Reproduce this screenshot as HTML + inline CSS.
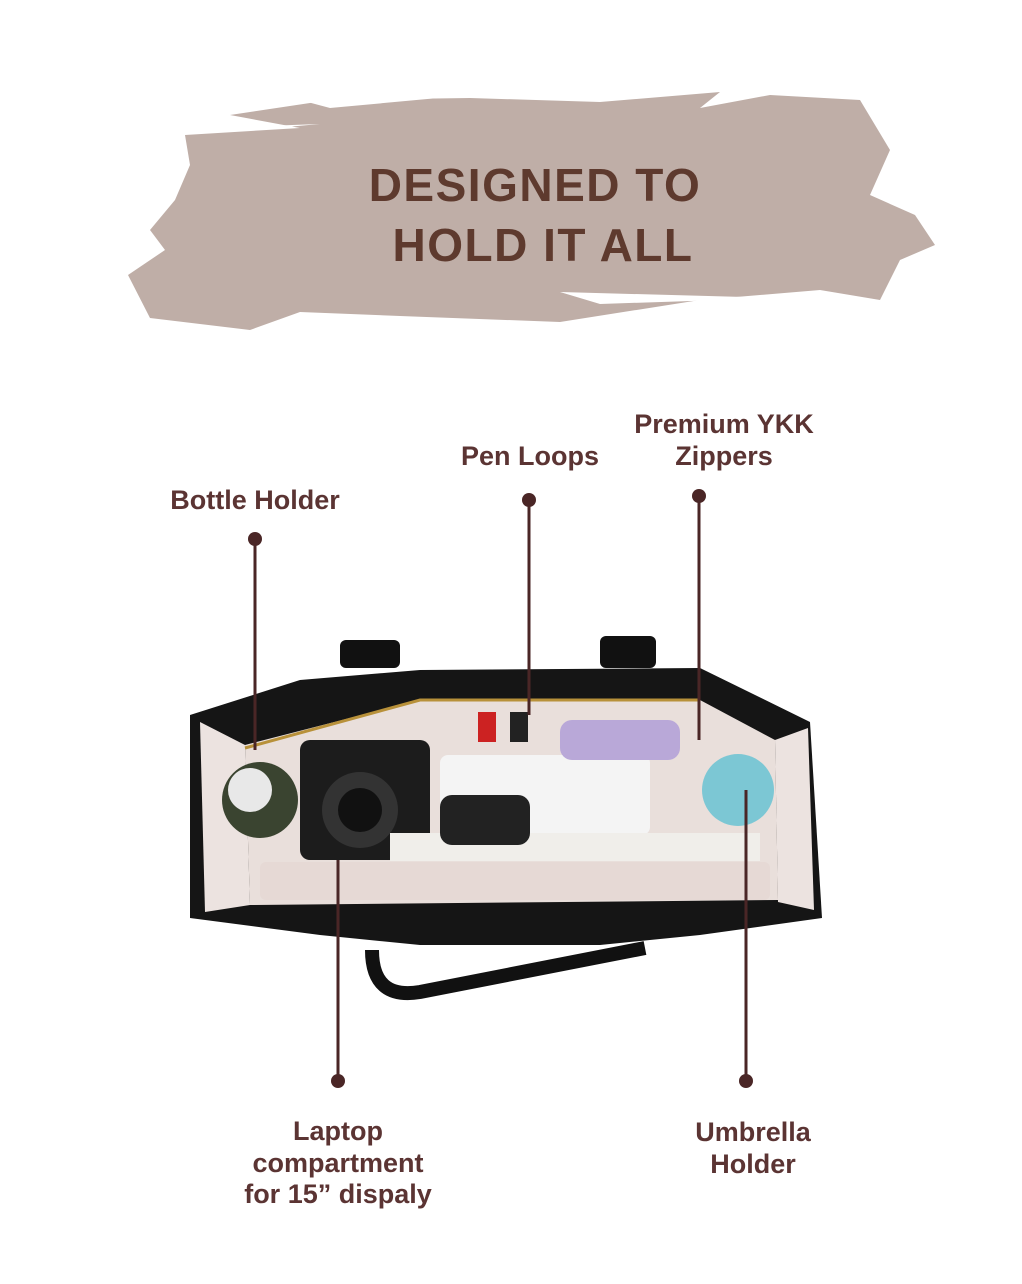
<!DOCTYPE html>
<html><head><meta charset="utf-8"><style>
html,body{margin:0;padding:0;background:#fff;}
body{width:1022px;height:1284px;position:relative;overflow:hidden;font-family:"Liberation Sans",sans-serif;}
.t{position:absolute;color:#5b3433;font-weight:bold;font-size:27px;text-align:center;line-height:32px;white-space:nowrap;}
.title{position:absolute;left:0;width:1070px;text-align:center;color:#5e3a2e;font-weight:bold;font-size:46px;line-height:60px;letter-spacing:1.5px;}
</style></head><body>
<svg width="1022" height="1284" style="position:absolute;left:0;top:0">
<path fill="#bfaea7" d="M185,135 L300,128 L230,115 L330,100 L470,98 L600,102 L720,92 L700,108 L770,95 L860,100 L890,150 L870,195 L915,215 L935,245 L900,260 L880,300 L820,290 L700,300 L560,322 L400,316 L300,312 L250,330 L150,318 L128,275 L165,250 L150,230 L175,200 L190,165 Z"/>
<path fill="#fff" d="M300,100 L460,96 L330,108 Z M560,292 L780,298 L600,304 Z M210,128 L320,124 L230,132 Z"/>
<rect x="340" y="640" width="60" height="28" rx="6" fill="#111"/>
<rect x="600" y="636" width="56" height="32" rx="6" fill="#111"/>
<path fill="#151515" d="M190,715 L300,680 L420,670 L700,668 L810,722 L822,918 L700,935 L600,945 L420,945 L320,935 L190,918 Z"/>
<path fill="#ece3e0" d="M200,722 L245,745 L250,905 L205,912 Z"/>
<path fill="#ece3e0" d="M775,740 L808,728 L814,910 L778,902 Z"/>
<path fill="#e9dfdb" d="M245,745 L420,700 L700,700 L775,740 L778,900 L250,905 Z"/>
<rect x="300" y="740" width="130" height="120" rx="10" fill="#1c1c1c"/>
<circle cx="360" cy="810" r="38" fill="#333"/>
<circle cx="360" cy="810" r="22" fill="#111"/>
<circle cx="260" cy="800" r="38" fill="#3a4430"/>
<circle cx="250" cy="790" r="22" fill="#e8e8e8"/>
<rect x="440" y="755" width="210" height="80" rx="8" fill="#f4f4f4"/>
<rect x="560" y="720" width="120" height="40" rx="12" fill="#b9a8d8"/>
<circle cx="738" cy="790" r="36" fill="#7cc7d4"/>
<rect x="390" y="833" width="370" height="28" fill="#f0eeea"/>
<rect x="440" y="795" width="90" height="50" rx="12" fill="#222"/>
<rect x="260" y="862" width="510" height="38" rx="6" fill="#e6d9d5"/>
<rect x="478" y="712" width="18" height="30" fill="#c22"/>
<rect x="510" y="712" width="18" height="30" fill="#222"/>
<path d="M245,748 L420,700 L700,700" fill="none" stroke="#b8913a" stroke-width="3"/>
<path d="M372,950 Q372,1000 420,992 L645,948" fill="none" stroke="#111" stroke-width="14"/>
<g stroke="#4a2626" stroke-width="3" fill="none">
<line x1="255" y1="539" x2="255" y2="750"/>
<line x1="529" y1="500" x2="529" y2="715"/>
<line x1="699" y1="496" x2="699" y2="740"/>
<line x1="338" y1="860" x2="338" y2="1081"/>
<line x1="746" y1="790" x2="746" y2="1081"/>
</g>
<g fill="#4a2626">
<circle cx="255" cy="539" r="7"/><circle cx="529" cy="500" r="7"/><circle cx="699" cy="496" r="7"/>
<circle cx="338" cy="1081" r="7"/><circle cx="746" cy="1081" r="7"/>
</g>
</svg>
<div class="title" style="top:155px;left:0;">DESIGNED TO</div>
<div class="title" style="top:215px;left:8px;">HOLD IT ALL</div>
<div class="t" style="left:105px;width:300px;top:484px;">Bottle Holder</div>
<div class="t" style="left:380px;width:300px;top:440px;">Pen Loops</div>
<div class="t" style="left:574px;width:300px;top:408px;">Premium YKK<br>Zippers</div>
<div class="t" style="left:188px;width:300px;top:1116px;line-height:31.5px;">Laptop<br>compartment<br>for 15” dispaly</div>
<div class="t" style="left:603px;width:300px;top:1116px;">Umbrella<br>Holder</div>
</body></html>
